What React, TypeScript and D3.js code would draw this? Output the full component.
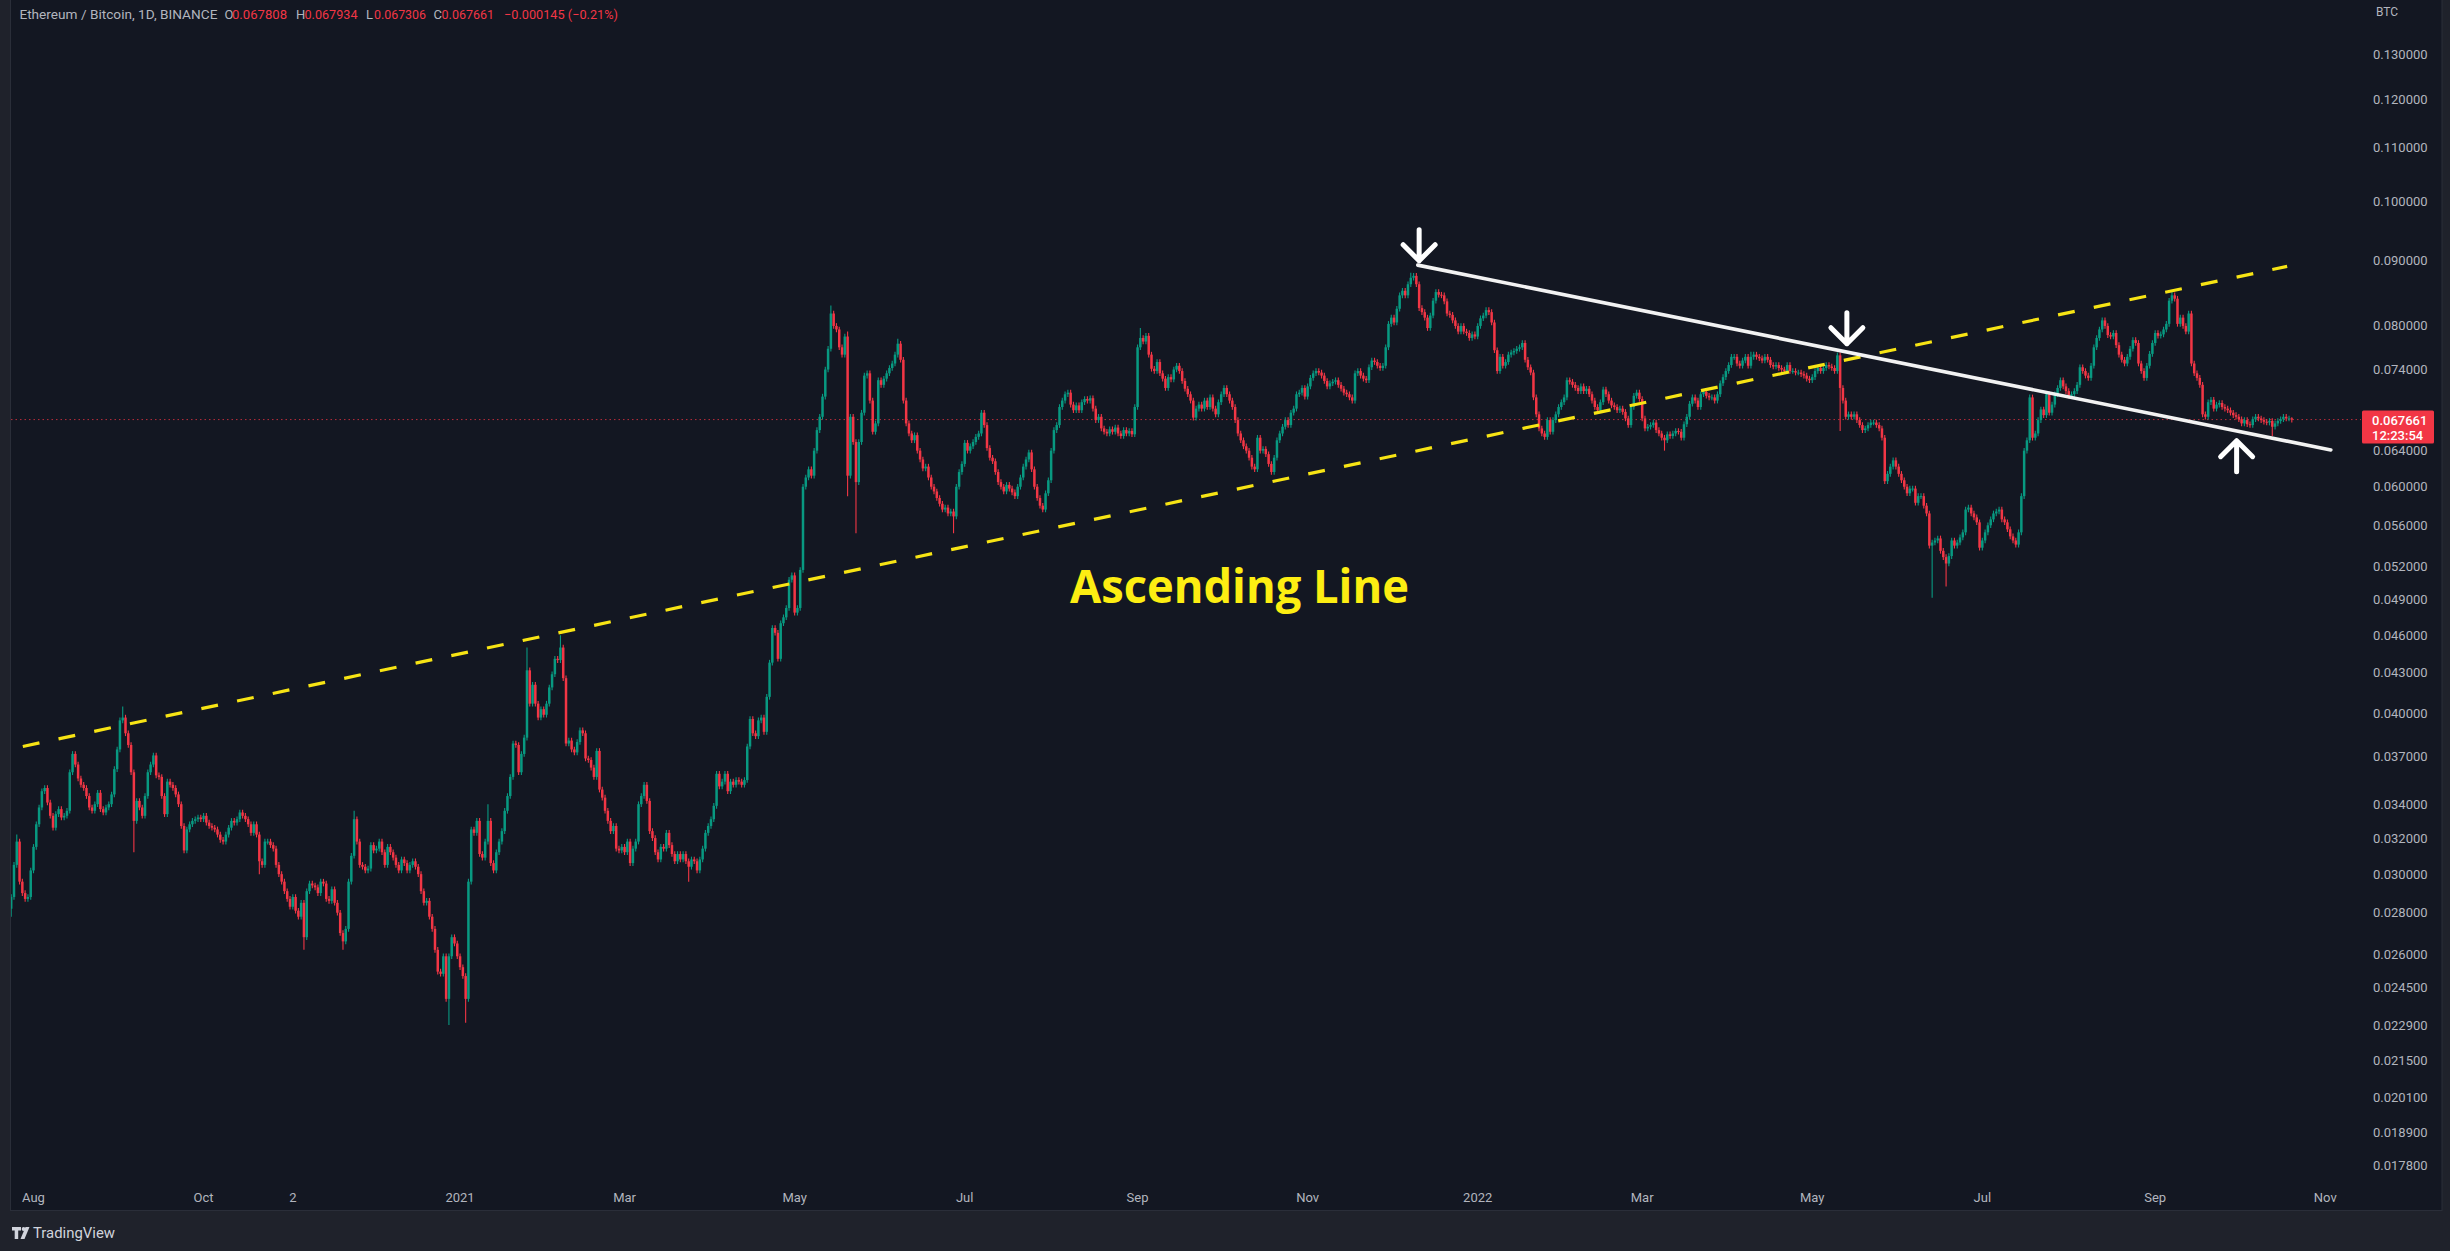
import React from "react";
import * as d3 from "d3";

// Daily closes of ETH/BTC, in units of 0.0001 BTC.
// 2020-07-24 .. 2020-12-31
const closes2020 = [
  288, 305, 318, 296, 290, 287, 288, 302, 315, 328,
  338, 348, 350, 341, 333, 326, 334, 337, 332, 333,
  336, 360, 372, 365, 356, 352, 350, 345, 338, 336,
  340, 347, 337, 335, 338, 340, 346, 362, 375, 395,
  397, 386, 378, 360, 330, 342, 338, 333, 345, 360,
  365, 371, 358, 357, 345, 334, 354, 352, 350, 346,
  340, 327, 313, 325, 328, 330, 331, 332, 331, 333,
  329, 327, 326, 325, 322, 319, 318, 322, 326, 330,
  329, 331, 335, 333, 331, 328, 323, 328, 322, 307,
  305, 318, 318, 316, 314, 305, 300, 296, 291, 287,
  283, 288, 281, 278, 285, 268, 291, 295, 294, 293,
  290, 296, 295, 287, 286, 292, 285, 280, 270, 266,
  272, 296, 310, 331, 318, 305, 304, 302, 303, 316,
  313, 314, 318, 312, 305, 315, 312, 309, 305, 302,
  308, 306, 302, 305, 307, 304, 300, 291, 285, 286,
  278, 272, 262, 252, 251, 259, 240, 259, 268, 265,
  259,
];
// 2021-01-01 .. 2021-06-30
const closes2021a = [
  254, 250, 240, 296, 325, 323, 330, 311, 309, 318,
  330, 306, 302, 312, 318, 324, 336, 345, 357, 379,
  378, 360, 372, 383, 432, 407, 421, 407, 397, 403,
  399, 407, 419, 429, 441, 440, 450, 426, 379, 381,
  375, 373, 380, 388, 386, 369, 368, 363, 357, 374,
  349, 344, 336, 330, 324, 327, 314, 313, 315, 312,
  318, 306, 314, 318, 340, 345, 352, 342, 324, 320,
  312, 308, 315, 314, 323, 316, 311, 307, 311, 308,
  311, 307, 304, 308, 307, 302, 308, 314, 323, 327,
  331, 339, 359, 351, 354, 359, 348, 354, 352, 355,
  354, 352, 355, 377, 396, 386, 384, 395, 397, 387,
  412, 438, 466, 462, 441, 470, 475, 483, 508, 512,
  479, 483, 517, 600, 610, 619, 612, 640, 664, 680,
  705, 740, 768, 818, 800, 795, 770, 760, 785, 612,
  680, 650, 605, 650, 685, 732, 735, 700, 662, 672,
  726, 720, 728, 735, 742, 748, 760, 775, 753, 700,
  672, 660, 652, 658, 640, 630, 620, 622, 610, 600,
  595, 588, 582, 576, 578, 572, 574, 569, 600, 616,
  625,
];
// 2021-07-01 .. 2021-12-31
const closes2021b = [
  649, 640, 645, 650, 656, 660, 685, 670, 643, 632,
  628, 616, 605, 600, 595, 602, 598, 594, 590, 600,
  610, 622, 630, 638, 619, 600, 588, 580, 576, 593,
  607, 640, 664, 670, 692, 700, 708, 710, 695, 688,
  694, 688, 698, 702, 700, 703, 690, 676, 680, 666,
  662, 660, 665, 662, 667, 660, 657, 664, 660, 663,
  659, 692, 770, 783, 778, 786, 760, 741, 738, 750,
  735, 728, 716, 730, 727, 740, 745, 738, 725, 715,
  708, 700, 679, 690, 695, 690, 700, 692, 704, 690,
  683, 698, 708, 716, 708, 700, 692, 676, 660, 652,
  645, 640, 632, 622, 619, 655, 640, 642, 636, 625,
  616, 632, 652, 660, 668, 676, 670, 685, 690, 708,
  710, 716, 705, 718, 729, 735, 738, 736, 732, 725,
  718, 722, 724, 726, 720, 715, 710, 708, 704, 700,
  735, 738, 732, 728, 726, 743, 752, 750, 745, 742,
  745, 770, 803, 812, 805, 825, 845, 852, 845, 862,
  872, 875, 862, 826, 820, 812, 797, 815, 837, 850,
  846, 845, 836, 818, 816, 808, 800, 792, 800, 792,
  790, 783, 788, 785,
];
// 2022-01-01 .. 2022-10-20
const closes2022 = [
  800, 811, 815, 823, 820, 805, 766, 738, 757, 745,
  750, 760, 763, 765, 768, 770, 776, 753, 743, 736,
  704, 683, 666, 660, 656, 676, 662, 676, 683, 692,
  698, 704, 726, 724, 720, 716, 712, 718, 712, 715,
  708, 700, 692, 688, 698, 714, 708, 700, 694, 692,
  688, 690, 686, 678, 670, 692, 706, 710, 702, 678,
  666, 668, 670, 673, 664, 660, 655, 652, 659, 657,
  660, 663, 662, 655, 671, 680, 696, 704, 700, 692,
  708, 711, 706, 704, 704, 700, 708, 722, 730, 738,
  746, 757, 757, 748, 745, 752, 757, 745, 757, 760,
  757, 755, 752, 757, 753, 746, 744, 746, 742, 740,
  738, 746, 738, 738, 736, 736, 734, 732, 728, 726,
  730, 738, 742, 738, 742, 746, 744, 742, 738, 759,
  716, 700, 680, 683, 680, 683, 676, 670, 664, 666,
  670, 673, 673, 670, 666, 655, 606, 614, 622, 629,
  622, 614, 607, 600, 593, 598, 598, 583, 590, 590,
  580, 572, 540, 543, 545, 547, 535, 529, 523, 530,
  545, 540, 543, 548, 553, 576, 578, 572, 568, 563,
  538, 545, 553, 560, 566, 572, 574, 576, 566, 563,
  556, 549, 545, 541, 553, 590, 640, 652, 704, 655,
  660, 676, 689, 682, 708, 685, 695, 708, 716, 726,
  718, 712, 706, 708, 712, 720, 743, 738, 732, 729,
  745, 770, 783, 795, 808, 800, 787, 785, 790, 773,
  760, 753, 748, 757, 768, 780, 776, 748, 738, 729,
  745, 761, 776, 790, 786, 788, 795, 803, 837, 845,
  840, 803, 812, 800, 792, 818, 748, 735, 729, 720,
  683, 680, 698, 701, 690, 695, 697, 692, 690, 688,
  685, 682, 680, 677, 672, 676, 671, 670, 677, 680,
  678, 676, 674, 673, 675, 668, 672, 675, 677, 680,
  678, 678, 677,
];

// Notable wicks: [day index, high, low] (0.0001 BTC, 0 = none)
const wickMarks = [
  [0, 0, 278], [2, 322, 0], [40, 405, 0], [44, 0, 312], [89, 0, 300],
  [105, 0, 262], [119, 0, 262], [123, 336, 0], [157, 0, 229], [163, 0, 230],
  [171, 340, 0], [185, 450, 0], [197, 460, 0], [243, 0, 296], [294, 830, 0],
  [300, 792, 590], [303, 0, 552], [318, 782, 0], [338, 0, 552], [405, 797, 0],
  [502, 880, 0], [593, 0, 640], [624, 764, 0], [655, 763, 0], [656, 0, 663],
  [689, 0, 492], [694, 0, 502], [775, 852, 0], [811, 0, 657],
];
const firstOpen = 282;
const lastOHLC = [0.067808, 0.067934, 0.067306, 0.067661];
const startDay = "2020-07-24";

const yTicks = [
  0.13, 0.12, 0.11, 0.1, 0.09, 0.08, 0.074, 0.064, 0.06, 0.056, 0.052, 0.049,
  0.046, 0.043, 0.04, 0.037, 0.034, 0.032, 0.03, 0.028, 0.026, 0.0245, 0.0229,
  0.0215, 0.0201, 0.0189, 0.0178,
];
const xTickDates = [
  "2020-08-01", "2020-10-01", "2020-11-02", "2021-01-01", "2021-03-01",
  "2021-05-01", "2021-07-01", "2021-09-01", "2021-11-01", "2022-01-01",
  "2022-03-01", "2022-05-01", "2022-07-01", "2022-09-01", "2022-11-01",
];
const xTickLabels = [
  "Aug", "Oct", "2", "2021", "Mar", "May", "Jul", "Sep", "Nov", "2022",
  "Mar", "May", "Jul", "Sep", "Nov",
];

// Drawings: anchored in (date, price)
const ascendingLine = [["2020-07-28T04:00", 0.0377], ["2022-10-18T08:00", 0.089]];
const descendingLine = [["2021-12-10T12:00", 0.0892], ["2022-11-03T00:00", 0.06408]];
const arrows = [
  ["2021-12-11T00:00", 0.0899, "down"],
  ["2022-05-13T10:00", 0.0775, "down"],
  ["2022-09-30T05:00", 0.06515, "up"],
];
const labelAnchor = ["2021-08-07T18:00", 0.04877];
const labelText = "Ascending Line";

const UP = "#089981";
const DOWN = "#f23645";
const AXIS_TEXT = "#b2b5be";
const FONT = "Roboto, 'Noto Sans', sans-serif";

export default function App() {
  const W = 2450;
  const H = 1251;
  const DAY = 86400000;
  const start = Date.parse(startDay + "T00:00:00Z");
  const d = (s: string) => new Date(s.length <= 10 ? s + "T00:00:00Z" : s + ":00Z");

  const closes = [...closes2020, ...closes2021a, ...closes2021b, ...closes2022].map(
    (v) => v / 10000
  );
  const wickMap = new Map(wickMarks.map((w) => [w[0], w]));
  const candles = closes.map((c, i) => {
    const o = i === 0 ? firstOpen / 10000 : closes[i - 1];
    let h = Math.max(o, c) * 1.005;
    let l = Math.min(o, c) * 0.995;
    const w = wickMap.get(i);
    if (w) {
      if (w[1]) h = Math.max(h, w[1] / 10000);
      if (w[2]) l = Math.min(l, w[2] / 10000);
    }
    return { date: new Date(start + i * DAY), o, h, l, c };
  });
  const lastC = candles[candles.length - 1];
  lastC.o = lastOHLC[0];
  lastC.h = lastOHLC[1];
  lastC.l = lastOHLC[2];
  lastC.c = lastOHLC[3];

  const x = d3
    .scaleUtc()
    .domain([new Date(start), new Date(start + (candles.length - 1) * DAY)])
    .range([11.2, 2291.8]);
  const y = d3.scaleLog().domain([0.0178, 0.13]).range([1165.9, 54.6]);
  const fmt = d3.format(".6f");

  const lastPrice = lastOHLC[3];
  const priceY = y(lastPrice);

  const plotRight = 2361;
  const arrowPath = (tx: number, ty: number, dir: string) => {
    const s = dir === "down" ? 1 : -1;
    return `M${tx},${ty - s * 31} L${tx},${ty} M${tx - 16},${ty - s * 16} L${tx},${ty} L${tx + 16},${ty - s * 16}`;
  };

  return (
    <svg
      width={W}
      height={H}
      style={{ position: "fixed", left: 0, top: 0, display: "block" }}
      xmlns="http://www.w3.org/2000/svg"
    >
      <rect x={0} y={0} width={W} height={H} fill="#1f222b" />
      <rect x={10.5} y={-1} width={2431.5} height={1211.5} fill="#131722" stroke="#2a2e39" strokeWidth={1} />

      <defs>
        <clipPath id="plot">
          <rect x={11} y={0} width={plotRight - 11} height={1178} />
        </clipPath>
      </defs>

      {/* last price dotted line */}
      <line
        x1={11}
        x2={plotRight}
        y1={priceY}
        y2={priceY}
        stroke={DOWN}
        strokeWidth={1}
        strokeDasharray="1.5 3"
        opacity={0.75}
      />

      <g clipPath="url(#plot)">
        {candles.map((k, i) => {
          const cx = x(k.date);
          const up = k.c >= k.o;
          const col = up ? UP : DOWN;
          const yTop = y(Math.max(k.o, k.c));
          const yBot = y(Math.min(k.o, k.c));
          return (
            <g key={i}>
              <line x1={cx} x2={cx} y1={y(k.h)} y2={y(k.l)} stroke={col} strokeWidth={1.1} />
              <rect x={cx - 1.25} y={yTop} width={2.5} height={Math.max(1, yBot - yTop)} fill={col} />
            </g>
          );
        })}

        {/* ascending dashed line */}
        <line
          x1={x(d(ascendingLine[0][0] as string))}
          y1={y(ascendingLine[0][1] as number)}
          x2={x(d(ascendingLine[1][0] as string))}
          y2={y(ascendingLine[1][1] as number)}
          stroke="#f7e414"
          strokeWidth={3.2}
          strokeDasharray="17 19.5"
        />
        {/* descending line */}
        <line
          x1={x(d(descendingLine[0][0] as string))}
          y1={y(descendingLine[0][1] as number)}
          x2={x(d(descendingLine[1][0] as string))}
          y2={y(descendingLine[1][1] as number)}
          stroke="#f2f2f2"
          strokeWidth={3.6}
          strokeLinecap="round"
        />
        {arrows.map((a, i) => (
          <path
            key={i}
            d={arrowPath(x(d(a[0] as string)), y(a[1] as number), a[2] as string)}
            fill="none"
            stroke="#ffffff"
            strokeWidth={5}
            strokeLinecap="round"
            strokeLinejoin="round"
          />
        ))}
        <text
          x={x(d(labelAnchor[0] as string))}
          y={y(labelAnchor[1] as number)}
          fill="#fdee12"
          fontFamily="'Open Sans', 'Noto Sans', sans-serif"
          fontWeight={700}
          fontSize={46}
          textLength={339}
          lengthAdjust="spacingAndGlyphs"
        >
          {labelText}
        </text>
      </g>

      {/* header */}
      <g fontFamily={FONT} fontSize={13} dominantBaseline="central">
        <text x={19.4} y={14} fill={AXIS_TEXT} textLength={198} lengthAdjust="spacingAndGlyphs">
          Ethereum / Bitcoin, 1D, BINANCE
        </text>
        <text x={224.5} y={14} fill={AXIS_TEXT}>O</text>
        <text x={232} y={14} fill={DOWN} textLength={55} lengthAdjust="spacingAndGlyphs">{fmt(lastOHLC[0])}</text>
        <text x={296} y={14} fill={AXIS_TEXT}>H</text>
        <text x={304.5} y={14} fill={DOWN} textLength={53} lengthAdjust="spacingAndGlyphs">{fmt(lastOHLC[1])}</text>
        <text x={366} y={14} fill={AXIS_TEXT}>L</text>
        <text x={374} y={14} fill={DOWN} textLength={52} lengthAdjust="spacingAndGlyphs">{fmt(lastOHLC[2])}</text>
        <text x={433.5} y={14} fill={AXIS_TEXT}>C</text>
        <text x={441.6} y={14} fill={DOWN} textLength={52.5} lengthAdjust="spacingAndGlyphs">{fmt(lastOHLC[3])}</text>
        <text x={504} y={14} fill={DOWN} textLength={114} lengthAdjust="spacingAndGlyphs">
          {"\u22120.000145 (\u22120.21%)"}
        </text>
      </g>

      {/* price axis */}
      <g fontFamily={FONT} fontSize={13} fill={AXIS_TEXT}>
        <text x={2376} y={12} dominantBaseline="central" fontSize={12}>BTC</text>
        {yTicks.map((t) => (
          <text key={t} x={2373} y={y(t)} dominantBaseline="central">
            {fmt(t)}
          </text>
        ))}
      </g>
      <rect x={2362} y={priceY - 9} width={72} height={33} fill={DOWN} rx={1.5} />
      <g fontFamily={FONT} fontSize={13} fill="#ffffff" fontWeight={500}>
        <text x={2372} y={priceY + 1} dominantBaseline="central">{fmt(lastPrice)}</text>
        <text x={2372} y={priceY + 16} dominantBaseline="central">12:23:54</text>
      </g>

      {/* time axis */}
      <g fontFamily={FONT} fontSize={13} fill={AXIS_TEXT} textAnchor="middle">
        {xTickDates.map((t, i) => (
          <text key={t} x={x(d(t))} y={1197} dominantBaseline="central">
            {xTickLabels[i]}
          </text>
        ))}
      </g>

      {/* TradingView logo */}
      <g fill="#d1d4dc">
        <path d="M12,1227 h9 v3.6 h-2.8 v8.4 h-3.5 v-8.4 h-2.7 z" />
        <circle cx={23.6} cy={1229} r={1.9} />
        <path d="M25.5,1227 h4 l-5,12 h-4 z" />
        <text x={33} y={1233} fontFamily={FONT} fontSize={14} dominantBaseline="central" textLength={82} lengthAdjust="spacingAndGlyphs">
          TradingView
        </text>
      </g>
    </svg>
  );
}
